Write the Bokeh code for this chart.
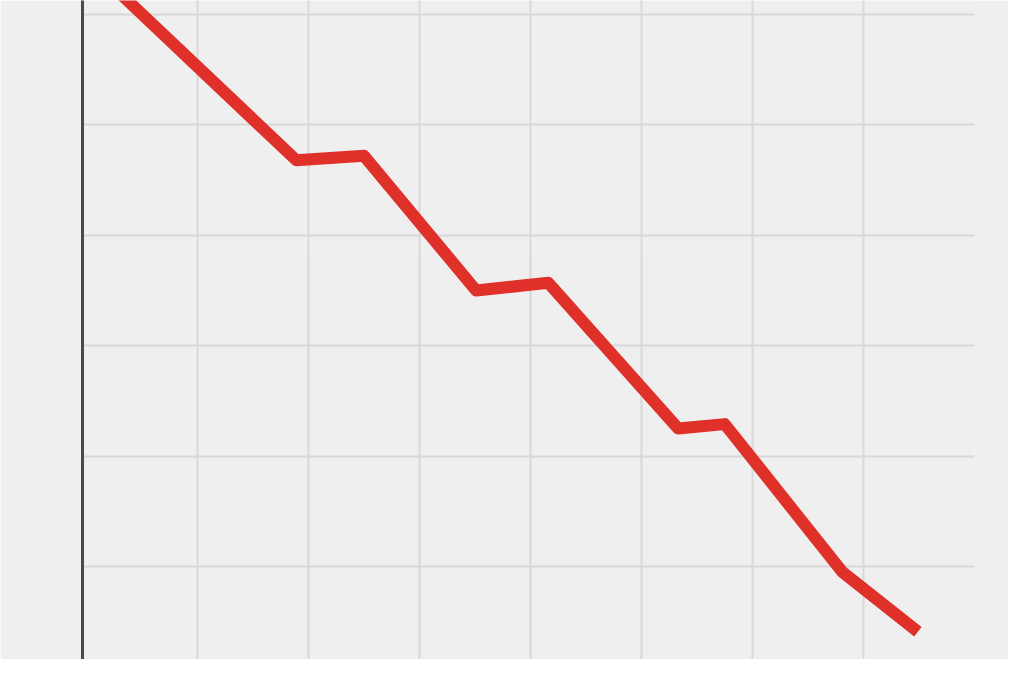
from bokeh.plotting import figure
from bokeh.models import FixedTicker, Range1d
from bokeh.embed import file_html
from bokeh.resources import INLINE

# Data (no labels present in the reference)
x_vals = [0.23, 1.89, 2.50, 3.51, 4.16, 5.33, 5.75, 6.81, 7.49]
y_vals = [62.6, 46.8, 47.2, 35.0, 35.7, 22.5, 22.9, 9.5, 4.1]
x_grid = [1, 2, 3, 4, 5, 6, 7, 8]
y_grid = [10, 20, 30, 40, 50, 60]

BG = "#efefef"

p = figure(width=1008, height=659, output_backend="svg", toolbar_location=None,
           x_range=Range1d(-0.036, 8.0), y_range=Range1d(1.58, 61.27),
           min_border_left=82, min_border_right=34, min_border_top=0, min_border_bottom=0)

p.background_fill_color = BG
p.border_fill_color = BG
p.outline_line_color = None

p.xaxis.visible = False
ax = p.yaxis[0]
ax.ticker = FixedTicker(ticks=[])
ax.major_tick_line_color = None
ax.minor_tick_line_color = None
ax.major_tick_out = 0
ax.major_tick_in = 0
ax.minor_tick_out = 0
ax.axis_line_color = "#4a4a4a"
ax.axis_line_width = 3

p.xgrid.ticker = FixedTicker(ticks=x_grid)
p.ygrid.ticker = FixedTicker(ticks=y_grid)
for g in (p.xgrid[0], p.ygrid[0]):
    g.grid_line_color = "#d8d8d8"
    g.grid_line_width = 2

p.line(x_vals, y_vals, line_color="#e0302a", line_width=12,
       line_join="round", line_cap="butt")

open("out.html", "w").write(file_html(p, INLINE))
